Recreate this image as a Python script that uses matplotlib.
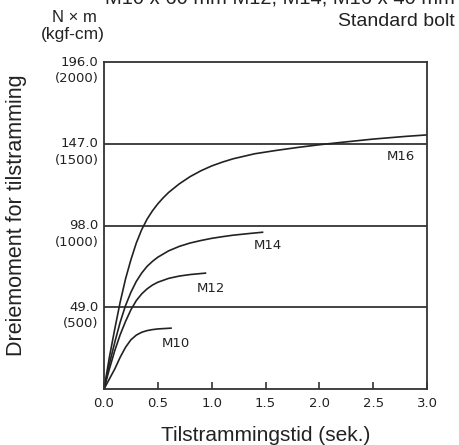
import matplotlib
matplotlib.use("Agg")
import matplotlib.pyplot as plt

# ---- data ----
m16_t = [0.0, 0.05, 0.1, 0.15, 0.2, 0.25, 0.3, 0.35, 0.4, 0.45, 0.5, 0.55, 0.6, 0.7, 0.8, 0.9, 1.0, 1.1, 1.2, 1.4, 1.6, 1.8, 2.0, 2.2, 2.5, 2.8, 3.0]
m16_v = [0.0, 19.0, 36.0, 52.0, 66.0, 77.5, 87.5, 95.5, 101.8, 106.8, 111.0, 114.6, 117.8, 123.0, 127.3, 130.8, 133.7, 136.0, 138.0, 141.0, 143.0, 144.8, 146.4, 147.8, 149.8, 151.4, 152.3]
m14_t = [0.0, 0.05, 0.1, 0.15, 0.2, 0.25, 0.3, 0.35, 0.4, 0.45, 0.5, 0.6, 0.7, 0.8, 0.9, 1.0, 1.1, 1.2, 1.35, 1.48]
m14_v = [0.0, 15.0, 28.0, 40.0, 50.0, 58.0, 64.5, 69.5, 73.5, 76.5, 79.0, 82.8, 85.5, 87.5, 89.0, 90.3, 91.3, 92.2, 93.2, 94.0]
m12_t = [0.0, 0.05, 0.1, 0.15, 0.2, 0.25, 0.3, 0.35, 0.4, 0.45, 0.5, 0.6, 0.7, 0.8, 0.95]
m12_v = [0.0, 12.0, 23.0, 32.5, 40.5, 47.5, 53.0, 57.0, 60.0, 62.3, 64.0, 66.3, 67.7, 68.6, 69.5]
m10_t = [0.0, 0.05, 0.1, 0.15, 0.2, 0.25, 0.3, 0.35, 0.4, 0.45, 0.5, 0.55, 0.63]
m10_v = [0.0, 6.0, 12.0, 19.0, 25.0, 29.5, 32.3, 34.0, 35.0, 35.6, 36.0, 36.2, 36.5]
series_names = ["M16", "M14", "M12", "M10"]

y_ticks = [0.0, 49.0, 98.0, 147.0, 196.0]
y_tick_labels = ["", "49.0\n(500)", "98.0\n(1000)", "147.0\n(1500)", "196.0\n(2000)"]
x_ticks = [0.0, 0.5, 1.0, 1.5, 2.0, 2.5, 3.0]
x_tick_labels = ["0.0", "0.5", "1.0", "1.5", "2.0", "2.5", "3.0"]

W, H = 459, 445
fig = plt.figure(figsize=(W / 100, H / 100), dpi=100)
ax = fig.add_axes([104 / W, 1 - 389 / H, (427 - 104) / W, (389 - 62) / H])

num_font = ["DejaVu Sans"]
txt_font = ["Liberation Sans", "DejaVu Sans"]
ink = "#222222"

for t, v in [(m16_t, m16_v), (m14_t, m14_v), (m12_t, m12_v), (m10_t, m10_v)]:
    ax.plot(t, v, color=ink, lw=1.2, solid_capstyle="butt", solid_joinstyle="round")

for g in y_ticks[1:4]:
    ax.axhline(g, color=ink, lw=1.2)

ax.set_xlim(0, 3.0)
ax.set_ylim(0, 196.0)

for s in ax.spines.values():
    s.set_color("#333333")
    s.set_linewidth(1.3)

ax.set_xticks(x_ticks)
ax.set_xticklabels(x_tick_labels, fontfamily=num_font, fontsize=9.5, color="#222222")
ax.tick_params(axis="x", direction="in", length=5, width=1.2, color="#333333", pad=6)
ax.set_yticks(y_ticks)
ax.set_yticklabels([])
ax.tick_params(axis="y", length=0)

# y tick labels (two lines: N·m and kgf-cm)
for val, lab in zip(y_ticks, y_tick_labels):
    if not lab:
        continue
    top, bot = lab.split("\n")
    ax.annotate(top, xy=(0, val), xycoords=("axes fraction", "data"),
                xytext=(-4, 0), textcoords="offset points", ha="right", va="center",
                fontfamily=num_font, fontsize=9.5, color="#222222")
    ax.annotate(bot, xy=(0, val), xycoords=("axes fraction", "data"),
                xytext=(-4, -12), textcoords="offset points", ha="right", va="center",
                fontfamily=num_font, fontsize=9.5, color="#222222")

# curve labels
label_pos = {"M16": (2.63, 139.5), "M14": (1.39, 86.0), "M12": (0.86, 60.5), "M10": (0.54, 27.0)}
for name in series_names:
    x, y = label_pos[name]
    ax.text(x, y, name, fontfamily=num_font, fontsize=9.5, color="#222222", ha="left", va="center")

ax.set_xlabel("Tilstrammingstid (sek.)", fontfamily=txt_font, fontsize=15, color="#222222", labelpad=11)
fig.text(17 / W, 1 - 215 / H, "Dreiemoment for tilstramming", rotation=90, ha="center", va="center",
         fontfamily=txt_font, fontsize=15.5, color="#222222")

fig.text(74 / W, 1 - 17 / H, "N \u00d7 m", ha="center", va="center", fontfamily=txt_font, fontsize=12, color="#222222")
fig.text(73 / W, 1 - 35 / H, "(kgf-cm)", ha="center", va="center", fontfamily=txt_font, fontsize=12.5, color="#222222")
fig.text(455 / W, 1 - 22 / H, "Standard bolt", ha="right", va="center", fontfamily=txt_font, fontsize=14, color="#222222")
fig.text(455 / W, 1 - 4 / H, "M10 x 60 mm M12, M14, M16 x 40 mm", ha="right", va="baseline",
         fontfamily=txt_font, fontsize=14.5, color="#222222")

fig.savefig("out.png", dpi=100, facecolor="white")
